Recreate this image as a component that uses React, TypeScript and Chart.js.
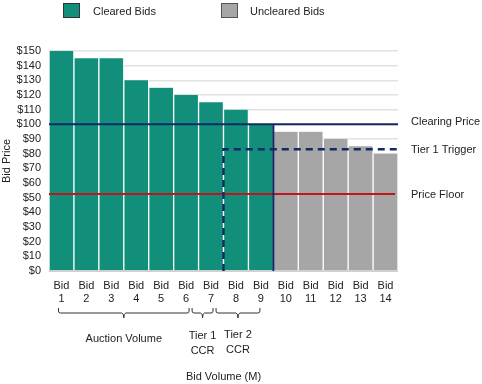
import React, { useEffect, useRef } from "react";
import { Chart, registerables } from "chart.js";

Chart.register(...registerables);

const categories: string[][] = [
  ["Bid", "1"], ["Bid", "2"], ["Bid", "3"], ["Bid", "4"], ["Bid", "5"], ["Bid", "6"], ["Bid", "7"],
  ["Bid", "8"], ["Bid", "9"], ["Bid", "10"], ["Bid", "11"], ["Bid", "12"], ["Bid", "13"], ["Bid", "14"],
];
const clearedBids: (number | null)[] = [150, 145, 145, 130, 125, 120, 115, 110, 100, null, null, null, null, null];
const unclearedBids: (number | null)[] = [null, null, null, null, null, null, null, null, null, 95, 95, 90, 85, 80];
const clearingPrice = 100;
const tier1Trigger = 83;
const priceFloor = 52.5;
const lastClearedIndex = 8; // Bid 9
const tier1StartIndex = 7; // Bid 8 starts tier 1 trigger
const yTicks = [0, 10, 20, 30, 40, 50, 60, 70, 80, 90, 100, 110, 120, 130, 140, 150];

const GREEN = "#118f7b";
const GRAY = "#a6a6a6";
const NAVY = "#142a66";
const RED = "#c0161b";
const FONT = "Liberation Sans, Arial, sans-serif";
const FS = 11;

const overlay = {
  id: "overlay",
  afterDatasetsDraw(chart: any) {
    const { ctx, chartArea } = chart;
    const x = chart.scales.x;
    const y = chart.scales.y;
    const half = (x.getPixelForValue(1) - x.getPixelForValue(0)) / 2;
    const clearX = x.getPixelForValue(lastClearedIndex) + half;
    const tierX = x.getPixelForValue(tier1StartIndex) - half;
    const yClear = y.getPixelForValue(clearingPrice);
    const yTier = y.getPixelForValue(tier1Trigger);
    const yFloor = y.getPixelForValue(priceFloor);
    const yZero = y.getPixelForValue(0);
    ctx.save();
    // price floor
    ctx.strokeStyle = RED;
    ctx.lineWidth = 2;
    ctx.beginPath();
    ctx.moveTo(chartArea.left, yFloor);
    ctx.lineTo(chartArea.right - 3, yFloor);
    ctx.stroke();
    // tier 1 trigger dashed
    ctx.strokeStyle = NAVY;
    ctx.lineWidth = 2.5;
    ctx.setLineDash([7, 5]);
    ctx.beginPath();
    ctx.moveTo(tierX, yZero);
    ctx.lineTo(tierX, yTier);
    ctx.lineTo(chartArea.right, yTier);
    ctx.stroke();
    ctx.setLineDash([]);
    // clearing price
    ctx.lineWidth = 2;
    ctx.beginPath();
    ctx.moveTo(chartArea.left, yClear);
    ctx.lineTo(chartArea.right, yClear);
    ctx.moveTo(clearX, yClear);
    ctx.lineTo(clearX, yZero);
    ctx.stroke();

    // right labels
    ctx.fillStyle = "#222";
    ctx.font = `${FS}px ${FONT}`;
    ctx.textAlign = "left";
    ctx.textBaseline = "middle";
    ctx.fillText("Clearing Price", chartArea.right + 13, yClear - 2);
    ctx.fillText("Tier 1 Trigger", chartArea.right + 13, yTier + 1);
    ctx.fillText("Price Floor", chartArea.right + 13, yFloor + 1);

    // legend
    ctx.lineWidth = 1;
    ctx.fillStyle = GREEN;
    ctx.fillRect(63.5, 3.5, 16, 14);
    ctx.strokeStyle = "#333";
    ctx.strokeRect(63.5, 3.5, 16, 14);
    ctx.fillStyle = GRAY;
    ctx.fillRect(221.5, 3.5, 16, 14);
    ctx.strokeStyle = "#555";
    ctx.strokeRect(221.5, 3.5, 16, 14);
    ctx.fillStyle = "#222";
    ctx.fillText("Cleared Bids", 93, 12);
    ctx.fillText("Uncleared Bids", 250, 12);

    // braces
    const brace = (x1: number, x2: number, top: number) => {
      const mid = (x1 + x2) / 2;
      ctx.beginPath();
      ctx.moveTo(x1, top);
      ctx.lineTo(x1, top + 3);
      ctx.quadraticCurveTo(x1, top + 5, x1 + 2, top + 5);
      ctx.lineTo(mid - 2, top + 5);
      ctx.quadraticCurveTo(mid, top + 5, mid, top + 10);
      ctx.quadraticCurveTo(mid, top + 5, mid + 2, top + 5);
      ctx.lineTo(x2 - 2, top + 5);
      ctx.quadraticCurveTo(x2, top + 5, x2, top + 3);
      ctx.lineTo(x2, top);
      ctx.stroke();
    };
    ctx.strokeStyle = "#333";
    ctx.lineWidth = 1;
    const c = (i: number) => x.getPixelForValue(i);
    brace(c(0) - 3, c(5) + 3, 308);
    brace(c(5) + 6, c(6) + 2, 308);
    brace(c(6) + 5, c(8) - 1, 308);

    ctx.textAlign = "center";
    ctx.fillStyle = "#222";
    ctx.fillText("Auction Volume", (c(0) + c(5)) / 2, 339);
    ctx.fillText("Tier 1", (c(5) + c(6) + 8) / 2, 336);
    ctx.fillText("CCR", (c(5) + c(6) + 8) / 2, 351);
    ctx.fillText("Tier 2", (c(6) + c(8) + 4) / 2, 335);
    ctx.fillText("CCR", (c(6) + c(8) + 4) / 2, 350);
    ctx.fillText("Bid Volume (M)", (chartArea.left + chartArea.right) / 2, 377);
    ctx.restore();
  },
};

export default function App() {
  const ref = useRef<HTMLCanvasElement>(null);
  useEffect(() => {
    if (!ref.current) return;
    const chart = new Chart(ref.current, {
      type: "bar",
      data: {
        labels: categories,
        datasets: [
          {
            label: "Cleared Bids",
            data: clearedBids,
            backgroundColor: GREEN,
            borderColor: "#ffffff",
            borderWidth: { left: 1, right: 1, top: 0, bottom: 0 },
            borderSkipped: false,
            barPercentage: 1,
            categoryPercentage: 1,
            grouped: false,
          },
          {
            label: "Uncleared Bids",
            data: unclearedBids,
            backgroundColor: GRAY,
            borderColor: "#ffffff",
            borderWidth: { left: 1, right: 1, top: 0, bottom: 0 },
            borderSkipped: false,
            barPercentage: 1,
            categoryPercentage: 1,
            grouped: false,
          },
        ],
      },
      options: {
        animation: false,
        responsive: false,
        maintainAspectRatio: false,
        layout: { padding: { left: 0, right: 84, top: 51, bottom: 0 } },
        plugins: { legend: { display: false }, tooltip: { enabled: false } },
        scales: {
          x: {
            grid: { display: false, drawTicks: false },
            border: { display: false },
            ticks: {
              color: "#222",
              font: { family: FONT, size: FS, lineHeight: 1.2 },
              padding: 8,
              maxRotation: 0,
              autoSkip: false,
            },
            afterFit: (s: any) => {
              s.height = 113;
            },
          },
          y: {
            min: 0,
            max: 150,
            afterBuildTicks: (s: any) => {
              s.ticks = yTicks.map((v) => ({ value: v }));
            },
            grid: {
              color: (ctx: any) => (ctx.tick && ctx.tick.value === 0 ? "#d0d0d0" : "#e2e2e2"),
              lineWidth: (ctx: any) => (ctx.tick && ctx.tick.value === 0 ? 2 : 1.5),
              drawTicks: false,
            },
            border: { display: false },
            ticks: {
              color: "#222",
              font: { family: FONT, size: FS },
              padding: 8,
              autoSkip: false,
              callback: (v: any) => "$" + v,
            },
            title: {
              display: true,
              text: "Bid Price",
              color: "#222",
              font: { family: FONT, size: FS },
              padding: 0,
            },
            afterFit: (s: any) => {
              s.width = 49;
            },
          },
        },
      },
      plugins: [overlay],
    });
    return () => chart.destroy();
  }, []);
  return (
    <div style={{ position: "fixed", left: 0, top: 0, width: 482, height: 384, background: "#fff" }}>
      <canvas ref={ref} width={482} height={384} style={{ width: 482, height: 384 }} />
    </div>
  );
}
